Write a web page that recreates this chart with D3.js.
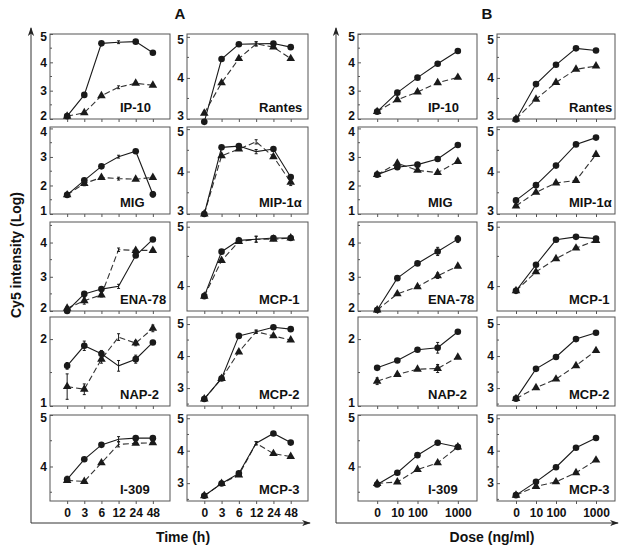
<!DOCTYPE html>
<html>
<head>
<meta charset="utf-8">
<script src="https://cdn.jsdelivr.net/npm/d3@7"></script>
<style>
  body { margin: 0; background: #fff; }
  svg text { font-family: "Liberation Sans", Arial, sans-serif; font-weight: bold; fill: #111; }
</style>
</head>
<body>
<svg id="chart" width="624" height="551"></svg>
<script>
// chemokines in reading order (row by row, left then right)
var chemokines = ["IP-10", "Rantes", "MIG", "MIP-1\u03b1", "ENA-78", "MCP-1", "NAP-2", "MCP-2", "I-309", "MCP-3"];
var yDomains = [[2, 5], [3, 5.07], [1, 4.05], [3, 5.05], [2, 4.6], [3.58, 5.08], [1, 2.33], [2.44, 5.22], [3.33, 5.0], [2.45, 5.1]];
var yTicks = [[2, 3, 4, 5], [3, 4, 5], [1, 2, 3, 4], [3, 4, 5], [2, 3, 4], [4, 5], [1, 2], [3, 4, 5], [4, 5], [3, 4, 5]];

var timeLabels = ["0", "3", "6", "12", "24", "48"];
var doseLabels = ["0", "10", "100", "", "1000"];

// panel A: time course (circles = solid, triangles = dashed)
var timeCircle = [
    [2.1, 2.85, 4.67, 4.71, 4.73, 4.34],
    [2.93, 4.46, 4.82, 4.83, 4.84, 4.75],
    [1.67, 2.18, 2.67, 3.01, 3.2, 1.69],
    [3.0, 4.57, 4.6, 4.47, 4.53, 3.87],
    [2.0, 2.5, 2.64, 2.72, 3.62, 4.09],
    [3.83, 4.58, 4.77, 4.79, 4.81, 4.81],
    [1.6, 1.9, 1.78, 1.6, 1.7, 1.95],
    [2.66, 3.3, 4.63, 4.76, 4.9, 4.84],
    [3.75, 4.14, 4.42, 4.53, 4.55, 4.55],
    [2.61, 2.99, 3.3, 4.23, 4.53, 4.25]
];
var timeTriangle = [
    [2.1, 2.22, 2.82, 3.12, 3.26, 3.19],
    [3.14, 3.88, 4.47, 4.83, 4.75, 4.47],
    [1.67, 2.07, 2.28, 2.24, 2.22, 2.28],
    [3.0, 4.37, 4.53, 4.7, 4.35, 3.75],
    [2.08, 2.3, 2.47, 3.79, 3.77, 3.77],
    [3.83, 4.43, 4.75, 4.79, 4.79, 4.81],
    [1.29, 1.25, 1.7, 2.03, 1.94, 2.16],
    [2.66, 3.3, 4.13, 4.76, 4.63, 4.5],
    [3.73, 3.71, 4.07, 4.43, 4.45, 4.46],
    [2.61, 2.99, 3.25, 4.23, 3.91, 3.82]
];

// panel B: dose response
var doseCircle = [
    [2.26, 2.93, 3.46, 3.95, 4.4],
    [2.99, 3.85, 4.32, 4.72, 4.67],
    [2.38, 2.64, 2.73, 2.93, 3.42],
    [3.32, 3.68, 4.14, 4.64, 4.8],
    [2.03, 2.96, 3.39, 3.74, 4.1],
    [3.92, 4.36, 4.78, 4.83, 4.8],
    [1.57, 1.68, 1.84, 1.87, 2.11],
    [2.67, 3.6, 3.97, 4.53, 4.73],
    [3.65, 3.88, 4.22, 4.46, 4.38],
    [2.63, 3.04, 3.49, 4.09, 4.39]
];
var doseTriangle = [
    [2.26, 2.68, 2.95, 3.28, 3.47],
    [3.0, 3.48, 3.89, 4.21, 4.29],
    [2.38, 2.78, 2.53, 2.45, 2.84],
    [3.19, 3.51, 3.73, 3.79, 4.4],
    [2.03, 2.5, 2.71, 3.03, 3.31],
    [3.92, 4.24, 4.46, 4.64, 4.77],
    [1.37, 1.47, 1.55, 1.56, 1.73],
    [2.67, 3.01, 3.28, 3.7, 4.17],
    [3.67, 3.7, 3.94, 4.07, 4.38],
    [2.63, 2.9, 3.04, 3.32, 3.71]
];

// error bars: [panel, chemokine index, series, point index, half width]
var errorBars = [
    ["A", 6, "c", 0, 0.05], ["A", 6, "c", 1, 0.07], ["A", 6, "c", 2, 0.05], ["A", 6, "c", 3, 0.08], ["A", 6, "c", 4, 0.06], ["A", 6, "c", 5, 0.03],
    ["A", 6, "t", 0, 0.19], ["A", 6, "t", 1, 0.08], ["A", 6, "t", 2, 0.06], ["A", 6, "t", 3, 0.05], ["A", 6, "t", 4, 0.04], ["A", 6, "t", 5, 0.05],
    ["A", 4, "c", 3, 0.06], ["A", 4, "t", 1, 0.1], ["A", 4, "t", 2, 0.06], ["A", 4, "t", 0, 0.05],
    ["A", 2, "t", 1, 0.08], ["A", 2, "c", 5, 0.1], ["A", 3, "t", 5, 0.08], ["A", 8, "c", 0, 0.06],
    ["B", 2, "c", 3, 0.08], ["B", 4, "c", 3, 0.12], ["B", 4, "t", 3, 0.08], ["B", 4, "c", 4, 0.1],
    ["B", 6, "c", 3, 0.08], ["B", 6, "t", 3, 0.06], ["B", 6, "t", 0, 0.05], ["B", 0, "t", 3, 0.05]
];

var svg = d3.select("#chart");
var ink = "#1a1a1a";

var rowTop = [34, 127, 222, 317, 415];
var rowBottom = [119, 214, 311, 406, 501];
var panels = {
    A: { cols: [[50, 170], [187, 308]], labels: timeLabels, circ: timeCircle, tri: timeTriangle, pad: 1.0 },
    B: { cols: [[358, 477], [497, 615]], labels: doseLabels, circ: doseCircle, tri: doseTriangle, pad: 0.95 }
};

var line = d3.line();

function errFor(p, k, s, i) {
    var hit = errorBars.find(function (e) { return e[0] === p && e[1] === k && e[2] === s && e[3] === i; });
    return hit ? hit[4] : 0;
}

Object.keys(panels).forEach(function (key) {
    var P = panels[key];
    chemokines.forEach(function (name, k) {
        var row = Math.floor(k / 2), col = k % 2;
        var x0 = P.cols[col][0], x1 = P.cols[col][1];
        var y0 = rowTop[row], y1 = rowBottom[row];
        var idx = d3.range(P.labels.length);

        var x = d3.scalePoint().domain(idx).range([x0, x1]).padding(P.pad);
        var y = d3.scaleLinear().domain(yDomains[k]).range([y1, y0]);

        var g = svg.append("g");

        g.append("rect")
            .attr("x", x0).attr("y", y0)
            .attr("width", x1 - x0).attr("height", y1 - y0)
            .attr("fill", "none").attr("stroke", "#555").attr("stroke-width", 1);

        // minor ticks at half units, inside the box
        var minor = d3.range(Math.ceil(yDomains[k][0] * 2) / 2, yDomains[k][1], 0.5)
            .filter(function (v) { return v % 1 !== 0; });
        g.selectAll(".minor").data(minor).enter().append("line")
            .attr("x1", x0).attr("x2", x0 + 2)
            .attr("y1", function (v) { return y(v); }).attr("y2", function (v) { return y(v); })
            .attr("stroke", "#555");

        var yAxis = g.append("g")
            .attr("transform", "translate(" + x0 + ",0)")
            .call(d3.axisLeft(y).tickValues(yTicks[k]).tickSize(-3).tickPadding(3).tickFormat(d3.format("d")));
        yAxis.select(".domain").remove();
        yAxis.selectAll("line").attr("stroke", "#555");
        // labels sitting on a box edge are pulled slightly inward so stacked panels don't collide
        yAxis.selectAll("text").style("font-size", "12px").attr("fill", ink)
            .attr("y", function (t) {
                if (y(t) - y0 < 3) return 3;
                if (y1 - y(t) < 3) return -3;
                return 0;
            });

        var xAxis = g.append("g")
            .attr("transform", "translate(0," + y1 + ")")
            .call(d3.axisBottom(x).tickSize(3).tickPadding(4)
                .tickFormat(function (i) { return row === 4 ? P.labels[i] : ""; }));
        xAxis.select(".domain").remove();
        xAxis.selectAll("line").attr("stroke", "#555");
        xAxis.selectAll("text").style("font-size", "12px").attr("fill", ink);

        var circ = P.circ[k], tri = P.tri[k];

        g.append("path")
            .attr("d", line(tri.map(function (v, i) { return [x(i), y(v)]; })))
            .attr("fill", "none").attr("stroke", "#333").attr("stroke-width", 1.1)
            .attr("stroke-dasharray", "6,3");
        g.append("path")
            .attr("d", line(circ.map(function (v, i) { return [x(i), y(v)]; })))
            .attr("fill", "none").attr("stroke", ink).attr("stroke-width", 1.1);

        // error bars; in A the 12 h points show only a bar
        [["c", circ], ["t", tri]].forEach(function (s) {
            s[1].forEach(function (v, i) {
                var e = errFor(key, k, s[0], i);
                if (!e && key === "A" && i === 3) e = 0.05;
                if (!e) return;
                var top = y(v + e), bot = y(v - e);
                g.append("line").attr("x1", x(i)).attr("x2", x(i)).attr("y1", top).attr("y2", bot)
                    .attr("stroke", ink);
                [top, bot].forEach(function (yy) {
                    g.append("line").attr("x1", x(i) - 1.5).attr("x2", x(i) + 1.5)
                        .attr("y1", yy).attr("y2", yy).attr("stroke", ink);
                });
            });
        });

        // points with their index kept, minus the A 12 h markers
        function pts(arr) {
            return arr.map(function (v, i) { return { i: i, v: v }; })
                .filter(function (d) { return !(key === "A" && d.i === 3); });
        }

        g.selectAll(".tri").data(pts(tri)).enter().append("path")
            .attr("d", d3.symbol().type(d3.symbolTriangle).size(32))
            .attr("transform", function (d) { return "translate(" + x(d.i) + "," + y(d.v) + ")"; })
            .attr("fill", ink);

        g.selectAll(".circ").data(pts(circ)).enter().append("circle")
            .attr("cx", function (d) { return x(d.i); })
            .attr("cy", function (d) { return y(d.v); })
            .attr("r", 3.3)
            .attr("fill", ink);

        g.append("text")
            .attr("x", x0 + (col === 0 ? 70 : 72))
            .attr("y", y1 - 7)
            .style("font-size", "13px")
            .text(name);
    });
});

// frame arrows for A and B
var defs = svg.append("defs");
defs.append("marker")
    .attr("id", "arrow").attr("viewBox", "0 0 10 10")
    .attr("refX", 9).attr("refY", 5)
    .attr("markerWidth", 9).attr("markerHeight", 9)
    .attr("orient", "auto-start-reverse")
    .append("path").attr("d", "M0,1.5 L10,5 L0,8.5 L3,5 Z").attr("fill", "#222");

[[31, 310], [336, 618]].forEach(function (f) {
    svg.append("path")
        .attr("d", "M" + f[0] + ",523 V28")
        .attr("stroke", "#333").attr("fill", "none").attr("marker-end", "url(#arrow)");
    svg.append("path")
        .attr("d", "M" + f[0] + ",523 H" + f[1])
        .attr("stroke", "#333").attr("fill", "none").attr("marker-end", "url(#arrow)");
});

svg.append("text").attr("x", 180).attr("y", 19).attr("text-anchor", "middle").style("font-size", "15px").text("A");
svg.append("text").attr("x", 487).attr("y", 19).attr("text-anchor", "middle").style("font-size", "15px").text("B");

svg.append("text").attr("x", 183).attr("y", 542).attr("text-anchor", "middle").style("font-size", "14px").text("Time (h)");
svg.append("text").attr("x", 492).attr("y", 542).attr("text-anchor", "middle").style("font-size", "14px").text("Dose (ng/ml)");

svg.append("text")
    .attr("transform", "translate(21,255) rotate(-90)")
    .attr("text-anchor", "middle")
    .style("font-size", "14px")
    .text("Cy5 intensity (Log)");
</script>
</body>
</html>
